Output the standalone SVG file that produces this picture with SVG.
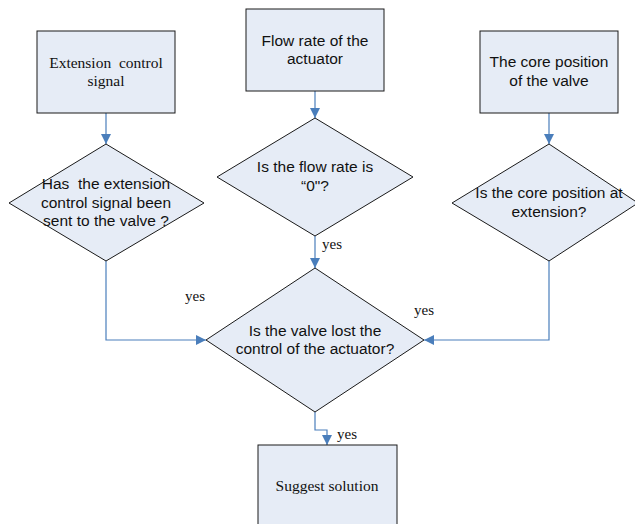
<svg xmlns="http://www.w3.org/2000/svg" width="635" height="524" viewBox="0 0 635 524">
  <defs>
    <marker id="arrow" viewBox="0 0 10 10" refX="10" refY="5" markerWidth="10" markerHeight="10" markerUnits="userSpaceOnUse" orient="auto">
      <path d="M0,0 L10,5 L0,10 Z" fill="#4a7ebb"/>
    </marker>
    <style>
      .shape { fill: #e6ecf6; stroke: #1a1a1a; stroke-width: 1; }
      .conn { fill: none; stroke: #4a7ebb; stroke-width: 1.2; marker-end: url(#arrow); }
      .sans { font-family: "Liberation Sans", Arial, sans-serif; font-size: 15.5px; fill: #111; text-anchor: middle; white-space: pre; }
      .serif { font-family: "Liberation Serif", "Times New Roman", serif; font-size: 15.5px; fill: #111; text-anchor: middle; white-space: pre; }
      .lbl { font-family: "Liberation Serif", "Times New Roman", serif; font-size: 15px; fill: #111; }
    </style>
  </defs>
  <rect width="635" height="524" fill="#ffffff"/>

  <g id="connectors">
    <path class="conn" d="M106,113 V144"/>
    <path class="conn" d="M315,91 V118"/>
    <path class="conn" d="M549,113 V144"/>
    <path class="conn" d="M106,261 V340 H206"/>
    <path class="conn" d="M315,236 V268"/>
    <path class="conn" d="M549,261 V340 H424"/>
    <path class="conn" d="M315,412 V430 H327 V445"/>
    <text class="lbl" x="322" y="249">yes</text>
    <text class="lbl" x="185" y="301">yes</text>
    <text class="lbl" x="414" y="315">yes</text>
    <text class="lbl" x="337" y="439">yes</text>
  </g>

  <g id="extension-signal">
    <rect class="shape" x="37" y="31" width="138" height="82"/>
    <text class="serif" x="106" y="68" xml:space="preserve">Extension  control</text>
    <text class="serif" x="106" y="86">signal</text>
  </g>

  <g id="flow-rate">
    <rect class="shape" x="246" y="9" width="138" height="82"/>
    <text class="sans" x="315" y="46">Flow rate of the</text>
    <text class="sans" x="315" y="64">actuator</text>
  </g>

  <g id="core-position">
    <rect class="shape" x="480" y="31" width="138" height="82"/>
    <text class="sans" x="549" y="67">The core position</text>
    <text class="sans" x="549" y="86">of the valve</text>
  </g>

  <g id="signal-sent">
    <polygon class="shape" points="9,203 106,144 204,203 106,261"/>
    <text class="sans" x="106" y="189" xml:space="preserve">Has  the extension</text>
    <text class="sans" x="106" y="208">control signal been</text>
    <text class="sans" x="106" y="226">sent to the valve ?</text>
  </g>

  <g id="flow-zero">
    <polygon class="shape" points="217,177 315,118 413,177 315,236"/>
    <text class="sans" x="315" y="172">Is the flow rate is</text>
    <text class="sans" x="315" y="191">“0"?</text>
  </g>

  <g id="core-extension">
    <polygon class="shape" points="452,203 549,144 638,203 549,261"/>
    <text class="sans" x="549" y="198">Is the core position at</text>
    <text class="sans" x="549" y="217">extension?</text>
  </g>

  <g id="valve-lost-control">
    <polygon class="shape" points="206,340 315,268 424,340 315,412"/>
    <text class="sans" x="315" y="336">Is the valve lost the</text>
    <text class="sans" x="315" y="354">control of the actuator?</text>
  </g>

  <g id="suggest-solution">
    <rect class="shape" x="258" y="445" width="139" height="90"/>
    <text class="serif" x="327" y="491">Suggest solution</text>
  </g>
</svg>
